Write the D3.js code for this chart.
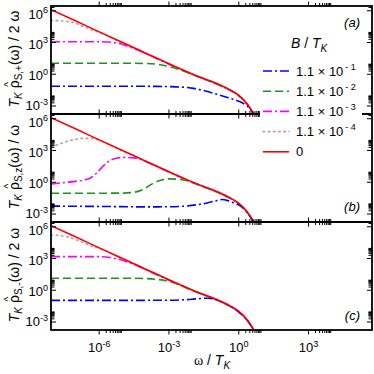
<!DOCTYPE html>
<html>
<head>
<meta charset="utf-8">
<title>spin spectral functions</title>
<script src="https://d3js.org/d3.v7.min.js"></script>
<style>
  body { margin: 0; background: #fff; }
  svg { display: block; font-family: "Liberation Sans", Arial, sans-serif; }
  .frame { fill: none; stroke: #000; stroke-width: 1.8px; }
  .axis path.domain { display: none; }
  .axis line { stroke: #000; stroke-width: 1px; }
  .curve { fill: none; stroke-width: 1.6px; }
  .ticklab { font-size: 13px; fill: #000; }
</style>
</head>
<body>
<script>
// every point is [log10(omega / T_K), log10(value)]
const redLine = [[-8.05,6.05],[-7,5.0],[-6,3.98],[-5,2.97],[-4,1.97],[-3,0.97],[-2.5,0.48],[-2,0.0],[-1.5,-0.43],[-1,-0.85],[-0.5,-1.35],[0,-2.0],[0.3,-2.62],[0.5,-3.2],[0.7,-3.95],[0.85,-4.7]];

// panel (a): S,+
const blueA = [[-8.05,-1.18],[-5,-1.18],[-3.5,-1.19],[-3,-1.21],[-2.5,-1.25],[-2,-1.36],[-1.5,-1.58],[-1,-1.88],[-0.5,-2.22],[0,-2.58],[0.3,-2.92],[0.5,-3.3],[0.7,-4.02],[0.85,-4.76]];
const greenA = [[-8.05,1.0],[-5,1.0],[-4,0.97],[-3.5,0.9],[-3,0.7],[-2.5,0.38],[-2,-0.05],[-1.5,-0.47],[-1,-0.89],[-0.5,-1.39],[0,-2.04],[0.3,-2.66],[0.5,-3.24],[0.7,-3.99],[0.85,-4.74]];
const magentaA = [[-8.05,3.03],[-6,3.03],[-5.6,3.0],[-5.3,2.92],[-5,2.78],[-4.7,2.56],[-4.4,2.3],[-4.1,2.03],[-4,1.93],[-3,0.93],[-2.5,0.44],[-2,-0.04],[-1.5,-0.47],[-1,-0.89],[-0.5,-1.39],[0,-2.04],[0.3,-2.66],[0.5,-3.24],[0.7,-3.99],[0.85,-4.74]];
const brownA = [[-8.05,5.03],[-7.6,5.0],[-7.3,4.93],[-7,4.78],[-6.7,4.52],[-6.4,4.23],[-6.1,4.0],[-6,3.93],[-5,2.93],[-4,1.93],[-3,0.93],[-2.5,0.44],[-2,-0.04],[-1.5,-0.47],[-1,-0.89],[-0.5,-1.39],[0,-2.04],[0.3,-2.66],[0.5,-3.24],[0.7,-3.99],[0.85,-4.74]];

// panel (b): S,z
const blueB = [[-8.05,-2.3],[-6,-2.33],[-4,-2.37],[-3,-2.36],[-2.3,-2.3],[-1.8,-2.18],[-1.3,-1.98],[-1,-1.82],[-0.7,-1.68],[-0.45,-1.78],[-0.2,-2.0],[0.1,-2.3],[0.3,-2.7],[0.5,-3.26],[0.7,-4.0],[0.85,-4.75]];
const greenB = [[-8.05,-1.08],[-6,-1.08],[-5,-1.07],[-4.5,-1.0],[-4.1,-0.75],[-3.7,-0.2],[-3.3,0.16],[-3,0.27],[-2.6,0.24],[-2.3,0.14],[-2,-0.04],[-1.5,-0.47],[-1,-0.89],[-0.5,-1.39],[0,-2.04],[0.3,-2.66],[0.5,-3.24],[0.7,-3.99],[0.85,-4.74]];
const magentaB = [[-8.05,-0.22],[-7.5,-0.08],[-7,0.04],[-6.6,0.18],[-6.35,0.35],[-6.1,0.8],[-5.8,1.5],[-5.5,2.02],[-5.2,2.25],[-4.9,2.3],[-4.5,2.26],[-4.2,2.13],[-4,1.94],[-3,0.93],[-2.5,0.44],[-2,-0.04],[-1.5,-0.47],[-1,-0.89],[-0.5,-1.39],[0,-2.04],[0.3,-2.66],[0.5,-3.24],[0.7,-3.99],[0.85,-4.74]];
const brownB = [[-8.05,3.3],[-7.7,3.55],[-7.3,3.85],[-7,4.0],[-6.7,4.1],[-6.4,4.1],[-6.1,4.02],[-6,3.94],[-5,2.93],[-4,1.93],[-3,0.93],[-2.5,0.44],[-2,-0.04],[-1.5,-0.47],[-1,-0.89],[-0.5,-1.39],[0,-2.04],[0.3,-2.66],[0.5,-3.24],[0.7,-3.99],[0.85,-4.74]];

// panel (c): S,-
const blueC = [[-8.05,-1.0],[-5,-1.0],[-3,-0.99],[-2.5,-0.96],[-2,-0.9],[-1.6,-0.82],[-1.3,-0.8],[-1.05,-0.86],[-0.8,-1.06],[-0.5,-1.37],[-0.2,-1.75],[0.1,-2.25],[0.3,-2.64],[0.5,-3.22],[0.7,-3.97],[0.85,-4.72]];
const greenC = [[-8.05,1.09],[-5,1.09],[-4,1.06],[-3.5,0.98],[-3,0.8],[-2.5,0.45],[-2,-0.04],[-1.5,-0.47],[-1,-0.89],[-0.5,-1.39],[0,-2.04],[0.3,-2.66],[0.5,-3.24],[0.7,-3.99],[0.85,-4.74]];
const magentaC = [[-8.05,3.13],[-6,3.13],[-5.7,3.1],[-5.4,3.0],[-5.1,2.85],[-4.8,2.64],[-4.5,2.4],[-4.2,2.13],[-4,1.93],[-3,0.93],[-2.5,0.44],[-2,-0.04],[-1.5,-0.47],[-1,-0.89],[-0.5,-1.39],[0,-2.04],[0.3,-2.66],[0.5,-3.24],[0.7,-3.99],[0.85,-4.74]];
const brownC = [[-8.05,5.17],[-7.7,5.13],[-7.4,5.02],[-7.1,4.82],[-6.8,4.58],[-6.5,4.3],[-6.2,4.05],[-6,3.93],[-5,2.93],[-4,1.93],[-3,0.93],[-2.5,0.44],[-2,-0.04],[-1.5,-0.47],[-1,-0.89],[-0.5,-1.39],[0,-2.04],[0.3,-2.66],[0.5,-3.24],[0.7,-3.99],[0.85,-4.74]];

// tick values (exponents) and legend entries
const xMajorExp = [-6, -3, 0, 3];
const yMajorExp = [-3, 0, 3, 6];
const legendExp = ["-1", "-2", "-3", "-4"];
const panelLabels = ["(a)", "(b)", "(c)"];
const rhoSubs = ["S,+", "S,z", "S,-"];
const rhoTails = ["(ω) / 2 ω", "(ω) / ω", "(ω) / 2 ω"];

const W = 374, H = 374;
const left = 51, right = 372, panelH = 108;
const tops = [6, 114, 222];

const styles = {
  brown:   { color: "#c49a9a", dash: "1.6,3.6", cap: "round" },
  magenta: { color: "#ff00ff", dash: "9,3,2,3", cap: "butt" },
  green:   { color: "#1a961a", dash: "8,4", cap: "butt" },
  blue:    { color: "#0000ff", dash: "9,3,2,3", cap: "butt" },
  red:     { color: "#ff0000", dash: null, cap: "butt" }
};

const panels = [
  { brown: brownA, magenta: magentaA, green: greenA, blue: blueA, red: redLine },
  { brown: brownB, magenta: magentaB, green: greenB, blue: blueB, red: redLine },
  { brown: brownC, magenta: magentaC, green: greenC, blue: blueC, red: redLine }
];

const svg = d3.select("body").append("svg").attr("width", W).attr("height", H);

const x = d3.scaleLog().domain([Math.pow(10, -8.05), Math.pow(10, 5.75)]).range([left, right]);

function minors(exps, scale) {
  const [lo, hi] = scale.domain();
  const out = [];
  exps.concat([exps[exps.length - 1] + 3]).forEach(k => {
    for (let m = 2; m <= 9; m++) {
      const v = m * Math.pow(10, k);
      if (v > lo && v < hi) out.push(v);
    }
  });
  return out;
}

function supLabel(text, exp, size) {
  text.text(null);
  text.append("tspan").text("10");
  text.append("tspan").attr("dy", -5.5).attr("font-size", size).text(exp);
}

const xMajor = xMajorExp.map(k => Math.pow(10, k));

panels.forEach((p, i) => {
  const top = tops[i], bottom = top + panelH;
  const y = d3.scaleLog().domain([Math.pow(10, -3.8), Math.pow(10, 6.4)]).range([bottom, top]);
  const yMajor = yMajorExp.map(k => Math.pow(10, k));
  const g = svg.append("g");

  g.append("clipPath").attr("id", "clip" + i)
    .append("rect").attr("x", left).attr("y", top).attr("width", right - left).attr("height", panelH);

  const line = d3.line()
    .x(d => x(Math.pow(10, d[0])))
    .y(d => y(Math.pow(10, d[1])))
    .curve(d3.curveMonotoneX);

  const curves = g.append("g").attr("clip-path", "url(#clip" + i + ")");
  ["brown", "magenta", "green", "blue", "red"].forEach(key => {
    curves.append("path")
      .attr("class", "curve")
      .attr("d", line(p[key]))
      .attr("stroke", styles[key].color)
      .attr("stroke-dasharray", styles[key].dash)
      .attr("stroke-linecap", styles[key].cap);
  });

  // y axes, ticks pointing inward
  const yl = g.append("g").attr("class", "axis").attr("transform", `translate(${left},0)`)
    .call(d3.axisLeft(y).tickValues(yMajor).tickSizeInner(-5).tickSizeOuter(0).tickPadding(2).tickFormat(() => ""));
  yl.selectAll(".tick text")
    .attr("class", "ticklab").attr("dy", null).attr("x", -3)
    .attr("y", d => { const e = Math.round(Math.log10(d)); return e === -3 ? 4 : e === 6 ? 8 : 6; })
    .each(function (d) { supLabel(d3.select(this), String(Math.round(Math.log10(d))), 9); });
  g.append("g").attr("class", "axis").attr("transform", `translate(${left},0)`)
    .call(d3.axisLeft(y).tickValues(minors(yMajorExp, y)).tickSizeInner(-3.5).tickSizeOuter(0).tickFormat(() => ""));
  g.append("g").attr("class", "axis").attr("transform", `translate(${right},0)`)
    .call(d3.axisRight(y).tickValues(yMajor).tickSizeInner(-5).tickSizeOuter(0).tickFormat(() => ""));
  g.append("g").attr("class", "axis").attr("transform", `translate(${right},0)`)
    .call(d3.axisRight(y).tickValues(minors(yMajorExp, y)).tickSizeInner(-3.5).tickSizeOuter(0).tickFormat(() => ""));

  // x axes, ticks pointing outward
  g.append("g").attr("class", "axis").attr("transform", `translate(0,${top})`)
    .call(d3.axisTop(x).tickValues(xMajor).tickSizeInner(4.5).tickSizeOuter(0).tickFormat(() => ""));
  g.append("g").attr("class", "axis").attr("transform", `translate(0,${top})`)
    .call(d3.axisTop(x).tickValues(minors(xMajorExp, x)).tickSizeInner(3).tickSizeOuter(0).tickFormat(() => ""));
  const xb = g.append("g").attr("class", "axis").attr("transform", `translate(0,${bottom})`)
    .call(d3.axisBottom(x).tickValues(xMajor).tickSizeInner(4.5).tickSizeOuter(0).tickFormat(() => ""));
  g.append("g").attr("class", "axis").attr("transform", `translate(0,${bottom})`)
    .call(d3.axisBottom(x).tickValues(minors(xMajorExp, x)).tickSizeInner(3).tickSizeOuter(0).tickFormat(() => ""));
  if (i === 2) {
    xb.selectAll(".tick text")
      .attr("class", "ticklab").attr("dy", null).attr("y", 22)
      .each(function (d) { supLabel(d3.select(this), String(Math.round(Math.log10(d))), 9); });
  } else {
    xb.selectAll(".tick text").remove();
  }

  g.append("rect").attr("class", "frame")
    .attr("x", left).attr("y", top).attr("width", right - left).attr("height", panelH);

  // panel tag
  const tagY = [27, 211, 320][i];
  g.append("text").attr("x", 360).attr("y", tagY).attr("text-anchor", "end")
    .attr("font-size", 13).attr("font-style", "italic").text(panelLabels[i]);

  // y title, rotated
  const cy = top + panelH / 2 - 1;
  const tg = svg.append("g").attr("transform", `translate(18.5,${cy}) rotate(-90)`);
  const t = tg.append("text").attr("text-anchor", "middle").attr("font-size", 14);
  t.append("tspan").attr("font-style", "italic").text("T");
  t.append("tspan").attr("font-style", "italic").attr("font-size", 10).attr("dy", 3.5).text("K");
  t.append("tspan").attr("dy", -3.5).text(" ρ");
  t.append("tspan").attr("font-size", 10).attr("dy", 3.5).text(rhoSubs[i]);
  t.append("tspan").attr("dy", -3.5).text(rhoTails[i]);
  const ext = t.node().getExtentOfChar(3);
  tg.append("text").attr("x", ext.x + ext.width / 2).attr("y", -7)
    .attr("text-anchor", "middle").attr("font-size", 10).text("^");
});

// x title
const xt = svg.append("text").attr("x", 212).attr("y", 365).attr("text-anchor", "middle").attr("font-size", 14);
xt.append("tspan").attr("font-family", "Liberation Serif, serif").text("ω");
xt.append("tspan").text(" / ");
xt.append("tspan").attr("font-style", "italic").text("T");
xt.append("tspan").attr("font-style", "italic").attr("font-size", 10).attr("dy", 4).text("K");

// legend
const lg = svg.append("g");
lg.append("rect").attr("x", 260).attr("y", 32).attr("width", 102).attr("height", 130).attr("fill", "#fff");
const lt = lg.append("text").attr("x", 291).attr("y", 48).attr("font-size", 14);
lt.append("tspan").attr("font-style", "italic").text("B");
lt.append("tspan").text(" / ");
lt.append("tspan").attr("font-style", "italic").text("T");
lt.append("tspan").attr("font-style", "italic").attr("font-size", 10).attr("dy", 4).text("K");

const legendKeys = ["blue", "green", "magenta", "brown", "red"];
legendKeys.forEach((key, i) => {
  const cy = 71 + 20.2 * i;
  lg.append("line").attr("x1", 263).attr("x2", 289).attr("y1", cy).attr("y2", cy)
    .attr("stroke", styles[key].color).attr("stroke-width", 1.6)
    .attr("stroke-dasharray", styles[key].dash).attr("stroke-linecap", styles[key].cap);
  const tx = lg.append("text").attr("x", 296).attr("y", cy + 4.5).attr("font-size", 13);
  if (i < legendExp.length) {
    tx.append("tspan").text("1.1 × 10");
    tx.append("tspan").attr("dy", -6).attr("dx", 2).attr("font-size", 9).text(legendExp[i].replace("-", "- "));
  } else {
    tx.text("0");
  }
});
</script>
</body>
</html>
